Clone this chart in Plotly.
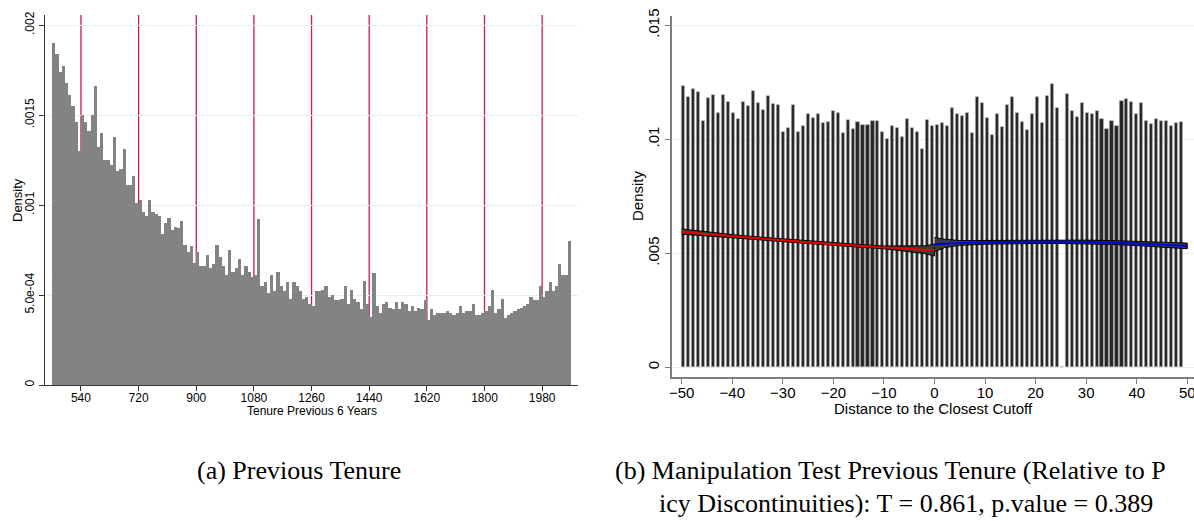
import plotly.graph_objects as go

W, H = 1194, 521

# ---------------- Data: panel (a) ----------------
tenure_bin_start = 450
tenure_bin_width = 10
tenure_density = [
    0.00190, 0.00184, 0.00174, 0.00177, 0.00168, 0.00161, 0.00155, 0.00146, 0.00130, 0.00150,
    0.00146, 0.00141, 0.00150, 0.00166, 0.00132, 0.00140, 0.00125, 0.00125, 0.00122, 0.00138,
    0.00119, 0.00120, 0.00131, 0.00111, 0.00111, 0.00116, 0.00101, 0.00103, 0.00096, 0.00094,
    0.00103, 0.00096, 0.00095, 0.00094, 0.00084, 0.00090, 0.00093, 0.00086, 0.00088, 0.00087,
    0.00091, 0.00078, 0.00074, 0.00077, 0.00068, 0.00074, 0.00066, 0.00066, 0.00072, 0.00065,
    0.00067, 0.00078, 0.00071, 0.00066, 0.00061, 0.00075, 0.00063, 0.00065, 0.00070, 0.00061,
    0.00066, 0.00063, 0.00060, 0.00061, 0.00092, 0.00055, 0.00057, 0.00051, 0.00061, 0.00052,
    0.00063, 0.00055, 0.00052, 0.00057, 0.00048, 0.00057, 0.00055, 0.00052, 0.00048, 0.00049,
    0.00045, 0.00044, 0.00052, 0.00052, 0.00053, 0.00055, 0.00049, 0.00050, 0.00047, 0.00047,
    0.00048, 0.00055, 0.00045, 0.00053, 0.00048, 0.00046, 0.00042, 0.00058, 0.00045, 0.00038,
    0.00062, 0.00044, 0.00040, 0.00045, 0.00046, 0.00043, 0.00042, 0.00046, 0.00042, 0.00046,
    0.00045, 0.00041, 0.00044, 0.00041, 0.00043, 0.00042, 0.00047, 0.00036, 0.00042, 0.00039,
    0.00040, 0.00040, 0.00040, 0.00041, 0.00040, 0.00039, 0.00040, 0.00044, 0.00040, 0.00041,
    0.00041, 0.00045, 0.00039, 0.00039, 0.00040, 0.00041, 0.00044, 0.00053, 0.00040, 0.00042,
    0.00048, 0.00037, 0.00039, 0.00040, 0.00041, 0.00042, 0.00043, 0.00044, 0.00045, 0.00049,
    0.00047, 0.00047, 0.00055, 0.00049, 0.00052, 0.00057, 0.00052, 0.00055, 0.00067, 0.00061,
    0.00061, 0.00080,
]
cutoffs = [540, 720, 900, 1080, 1260, 1440, 1620, 1800, 1980]
tenure_ticks = [540, 720, 900, 1080, 1260, 1440, 1620, 1800, 1980]
tenure_yticks = [0, 0.0005, 0.001, 0.0015, 0.002]
tenure_yticklabels = ["0", "5.0e-04", ".001", ".0015", ".002"]

# ---------------- Data: panel (b) ----------------
dist_first_center = -49.66
dist_bin_width = 0.985
dist_density = [
    0.01235, 0.01186, 0.01219, 0.01207, 0.01082, 0.01181, 0.01196, 0.01115, 0.01194, 0.01165,
    0.01114, 0.01089, 0.01164, 0.01146, 0.01211, 0.01158, 0.01130, 0.01189, 0.01155, 0.01150,
    0.01033, 0.01048, 0.01152, 0.01031, 0.01060, 0.01111, 0.01092, 0.01112, 0.01073, 0.01077,
    0.01123, 0.01117, 0.01028, 0.01083, 0.01045, 0.01077, 0.01064, 0.01061, 0.01080, 0.01079,
    0.01032, 0.01001, 0.01060, 0.01050,
    0.01012, 0.01089, 0.01048, 0.01032, 0.00959, 0.01083, 0.01060, 0.01063, 0.01073, 0.01058,
    0.01137, 0.01112, 0.01102, 0.01117, 0.01026, 0.01186, 0.01159, 0.01095, 0.01018, 0.01111,
    0.01053, 0.01149, 0.01186, 0.01114, 0.01076, 0.01039, 0.01110, 0.01184, 0.01073, 0.01190,
    0.01241, 0.01136,
    0.0,
    0.01197, 0.01124, 0.01098, 0.01161, 0.01117, 0.01110, 0.01124, 0.01090, 0.01047, 0.01082,
    0.01058, 0.01168, 0.01178, 0.01165, 0.01110, 0.01159, 0.01080, 0.01067, 0.01088, 0.01082,
    0.01082, 0.01058, 0.01072, 0.01074,
]
left_fit_x = [-50, -45, -40, -35, -30, -25, -20, -15, -10, -5, -2, 0]
left_fit_y = [0.00594, 0.00585, 0.00575, 0.00566, 0.00557, 0.00548, 0.00540, 0.00533, 0.00526, 0.00520, 0.00516, 0.00513]
left_ci_lo = [0.00584, 0.00577, 0.00568, 0.00560, 0.00551, 0.00542, 0.00534, 0.00527, 0.00520, 0.00508, 0.00499, 0.00488]
left_ci_hi = [0.00607, 0.00593, 0.00582, 0.00572, 0.00563, 0.00554, 0.00546, 0.00539, 0.00532, 0.00531, 0.00533, 0.00540]
right_fit_x = [0, 2, 5, 10, 15, 20, 25, 30, 35, 40, 45, 50]
right_fit_y = [0.00540, 0.00542, 0.00545, 0.00548, 0.00550, 0.00551, 0.00551, 0.00550, 0.00547, 0.00543, 0.00538, 0.00532]
right_ci_lo = [0.00507, 0.00525, 0.00535, 0.00540, 0.00542, 0.00543, 0.00543, 0.00542, 0.00539, 0.00534, 0.00528, 0.00520]
right_ci_hi = [0.00569, 0.00562, 0.00556, 0.00557, 0.00558, 0.00559, 0.00559, 0.00558, 0.00556, 0.00552, 0.00548, 0.00545]
dist_ticks = [-50, -40, -30, -20, -10, 0, 10, 20, 30, 40, 50]
dist_yticks = [0, 0.005, 0.01, 0.015]
dist_yticklabels = ["0", ".005", ".01", ".015"]

caption_a = "(a) Previous Tenure"
caption_b1 = "(b) Manipulation Test Previous Tenure (Relative to P"
caption_b2 = "icy Discontinuities): T = 0.861, p.value = 0.389"

# ---------------- helpers ----------------
def px(x):
    return x / W

def py(y):
    return 1 - y / H

SANS = "Liberation Sans, Arial, Helvetica, sans-serif"
SERIF = "Liberation Serif, Times New Roman, serif"
GRID = "#e7eef0"

fig = go.Figure()

# panel (a) histogram
tenure_x = [tenure_bin_start + tenure_bin_width * (i + 0.5) for i in range(len(tenure_density))]
fig.add_trace(go.Bar(
    x=tenure_x, y=tenure_density, width=tenure_bin_width,
    marker=dict(color="#838383", line=dict(width=0)),
    xaxis="x", yaxis="y", showlegend=False, hoverinfo="skip"))

# panel (b) histogram
dist_x = [dist_first_center + dist_bin_width * i for i in range(len(dist_density))]
fig.add_trace(go.Bar(
    x=dist_x, y=dist_density, width=dist_bin_width * 0.62,
    marker=dict(color="#272727", line=dict(color="#a8a8a8", width=0.6)),
    xaxis="x2", yaxis="y2", showlegend=False, hoverinfo="skip"))

# confidence bands
for xs, lo, hi in [(left_fit_x, left_ci_lo, left_ci_hi), (right_fit_x, right_ci_lo, right_ci_hi)]:
    fig.add_trace(go.Scatter(
        x=list(xs) + list(xs)[::-1], y=list(hi) + list(lo)[::-1],
        fill="toself", fillcolor="#3c3c3c", mode="lines",
        line=dict(color="#000000", width=1),
        xaxis="x2", yaxis="y2", showlegend=False, hoverinfo="skip"))

fig.add_trace(go.Scatter(x=left_fit_x, y=left_fit_y, mode="lines",
                         line=dict(color="#e00000", width=2, shape="spline"),
                         xaxis="x2", yaxis="y2", showlegend=False, hoverinfo="skip"))
fig.add_trace(go.Scatter(x=right_fit_x, y=right_fit_y, mode="lines",
                         line=dict(color="#0000e0", width=2, shape="spline"),
                         xaxis="x2", yaxis="y2", showlegend=False, hoverinfo="skip"))

# cutoff lines (behind bars)
for c in cutoffs:
    fig.add_shape(type="line", xref="x", yref="y", x0=c, x1=c, y0=0, y1=0.002056,
                  line=dict(color="#cf1848", width=1.3), layer="below")

axis_common = dict(ticks="outside", ticklen=5, tickwidth=1, showline=True, zeroline=False,
                   automargin=False, fixedrange=True)

fig.update_layout(
    width=W, height=H,
    margin=dict(l=0, r=0, t=0, b=0),
    paper_bgcolor="white", plot_bgcolor="white",
    barmode="overlay", bargap=0,
    font=dict(family=SANS, color="#000"),
    xaxis=dict(domain=[px(45), px(578)], range=[427.7, 2092], anchor="y",
               tickvals=tenure_ticks, showgrid=False, ticklabelstandoff=-3,
               linecolor="#333", tickcolor="#333", linewidth=1,
               tickfont=dict(size=12, family=SANS, color="#000"), **axis_common),
    yaxis=dict(domain=[py(385), py(15)], range=[0, 0.002056], anchor="x",
               tickvals=tenure_yticks, ticktext=tenure_yticklabels, tickangle=-90,
               showgrid=True, gridcolor=GRID, gridwidth=1,
               linecolor="#333", tickcolor="#333", linewidth=1,
               tickfont=dict(size=12, family=SANS, color="#000"), **axis_common),
    xaxis2=dict(domain=[px(671.7), 1.0], range=[-51.98, 51.33], anchor="y2",
                tickvals=dist_ticks, showgrid=False, ticklabelstandoff=-4,
                ticklabeloverflow="allow",
                linecolor="#7d7d7d", tickcolor="#7d7d7d", linewidth=2,
                tickfont=dict(size=15, family=SANS, color="#000"), **axis_common),
    yaxis2=dict(domain=[py(376.7), py(16)], range=[-0.000412, 0.01541], anchor="x2",
                tickvals=dist_yticks, ticktext=dist_yticklabels, tickangle=-90,
                showgrid=True, gridcolor=GRID, gridwidth=1,
                linecolor="#7d7d7d", tickcolor="#7d7d7d", linewidth=2,
                tickfont=dict(size=15, family=SANS, color="#000"), **axis_common),
)

annotations = [
    dict(text="Tenure Previous 6 Years", x=px(311.5), y=py(411), font=dict(size=12, family=SANS)),
    dict(text="Density", x=px(17), y=py(200), textangle=-90, font=dict(size=13, family=SANS)),
    dict(text="Distance to the Closest Cutoff", x=px(933), y=py(408), font=dict(size=15, family=SANS)),
    dict(text="Density", x=px(637), y=py(196), textangle=-90, font=dict(size=15, family=SANS)),
    dict(text=caption_a, x=px(299), y=py(470), font=dict(size=26, family=SERIF)),
    dict(text=caption_b1, x=px(613), y=py(470), xanchor="left", font=dict(size=26, family=SERIF)),
    dict(text=caption_b2, x=px(657), y=py(503), xanchor="left", font=dict(size=26, family=SERIF)),
]
for a in annotations:
    a.setdefault("xanchor", "center")
    a.update(xref="paper", yref="paper", showarrow=False, yanchor="middle")
    a["font"]["color"] = "#000"
    fig.add_annotation(**a)

fig.write_html("out.html", config={"displayModeBar": False})
